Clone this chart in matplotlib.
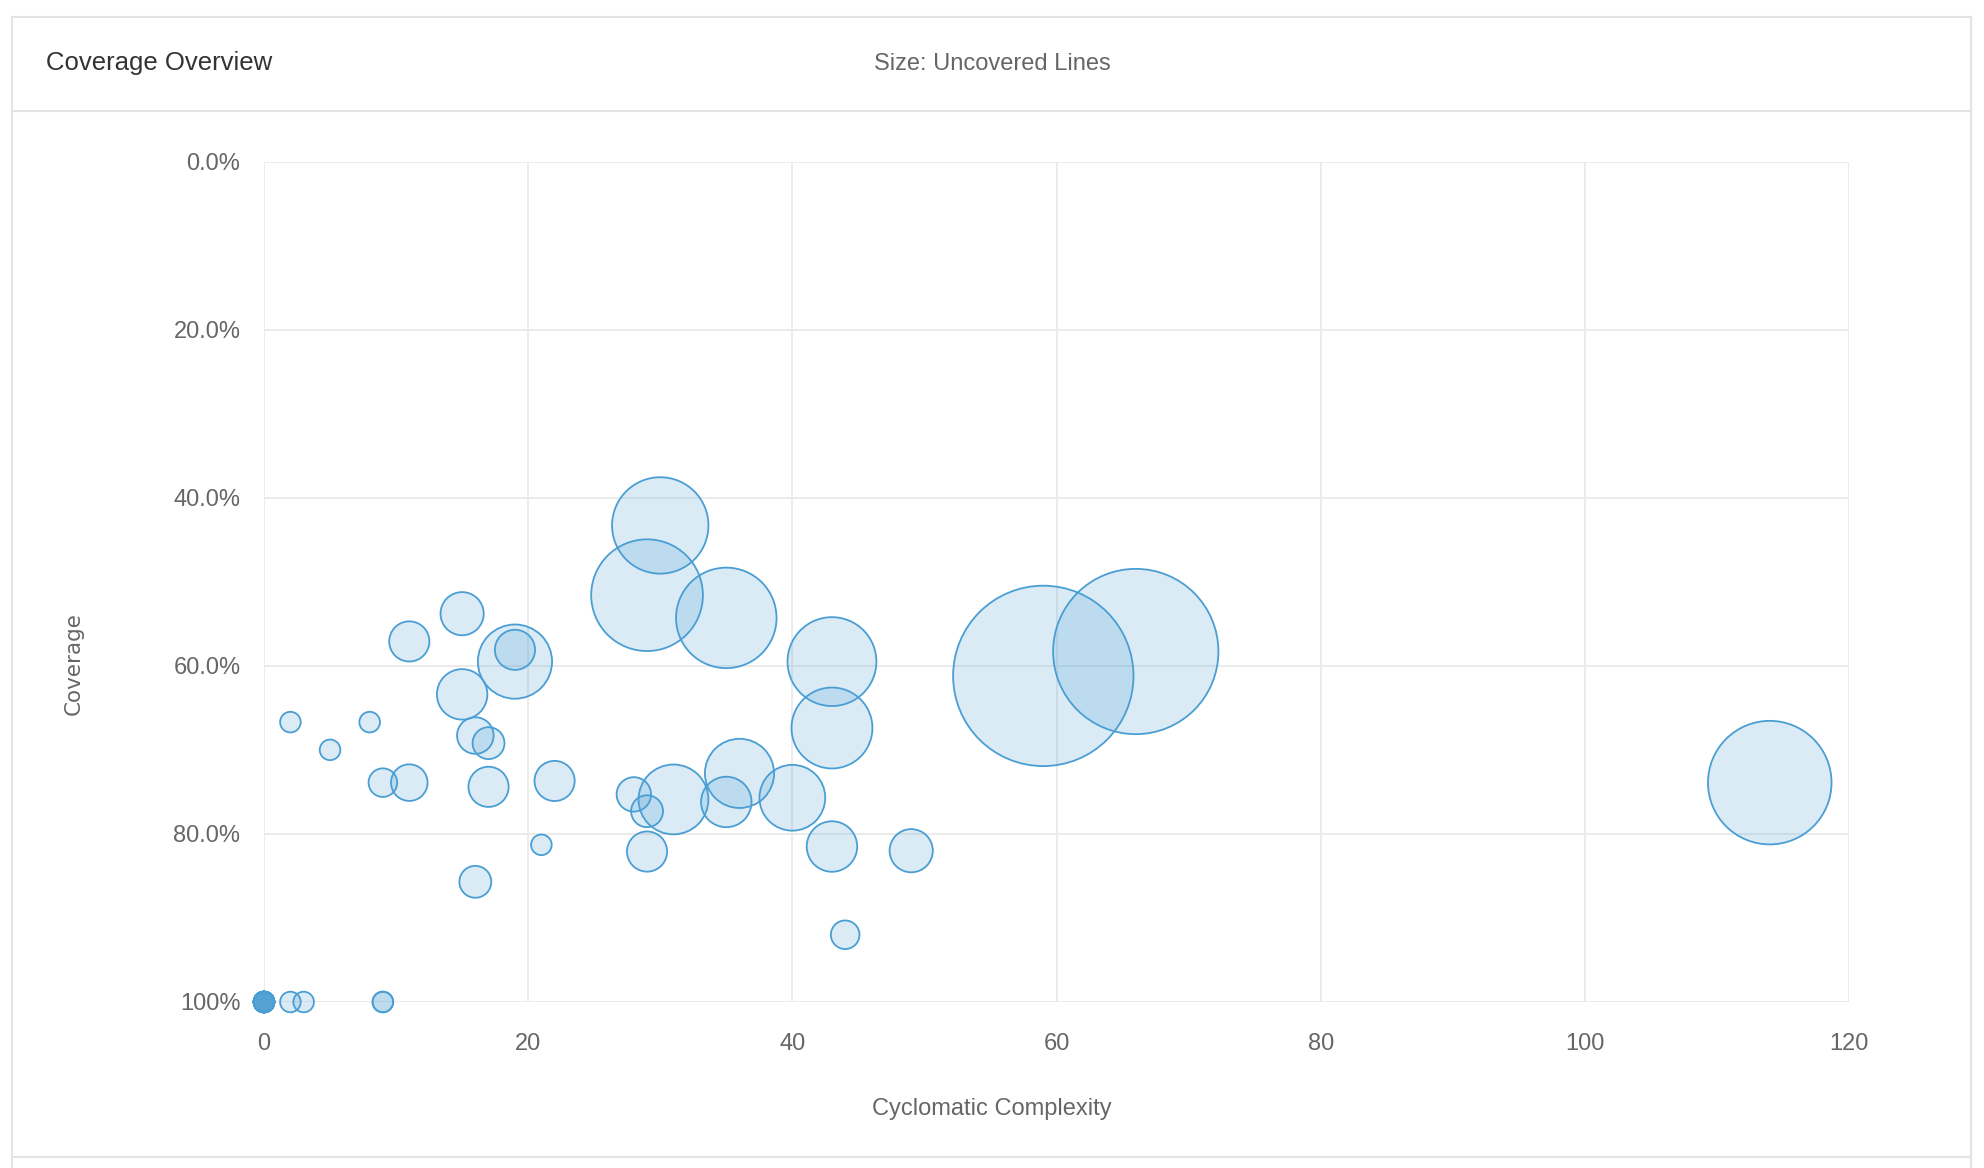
import numpy as np
import matplotlib
matplotlib.use("Agg")
import matplotlib.pyplot as plt
from matplotlib.lines import Line2D

# ---- data: one entry per file ----
complexity = [30, 29, 35, 43, 43, 22, 28, 29, 31, 35, 36, 40,
              15, 11, 19, 19, 15, 16, 17, 2, 8, 5, 9, 11, 17, 21, 16,
              59, 66, 114, 29, 43, 49, 44,
              2, 3, 9, 9,
              0, 0, 0, 0, 0, 0, 0, 0, 0, 0, 0, 0]
coverage = [43.3, 51.6, 54.3, 59.5, 67.4, 73.7, 75.3, 77.3, 75.9, 76.2, 72.8, 75.7,
            53.8, 57.1, 59.5, 58.1, 63.4, 68.3, 69.2, 66.7, 66.7, 70.0, 73.9, 73.9, 74.4, 81.3, 85.7,
            61.2, 58.3, 73.9, 82.1, 81.5, 82.0, 92.0,
            100, 100, 100, 100,
            100, 100, 100, 100, 100, 100, 100, 100, 100, 100, 100, 100]
uncovered = [90, 130, 100, 73, 57, 6, 3, 2, 38, 14, 37, 32,
             8, 6, 45, 6, 14, 4, 2, 0, 0, 0, 1, 4, 6, 0, 2,
             400, 328, 166, 6, 14, 8, 1,
             0, 0, 0, 0,
             0, 0, 0, 0, 0, 0, 0, 0, 0, 0, 0, 0]

x_ticks = [0, 20, 40, 60, 80, 100, 120]
y_ticks = [0, 20, 40, 60, 80, 100]
y_tick_labels = ["0.0%", "20.0%", "40.0%", "60.0%", "80.0%", "100%"]

W, H, DPI = 1984, 1168, 100
BLUE = "#4a9ed3"
GRID = "#ebebeb"
BORDER = "#e3e3e3"
TEXT = "#333333"
MUTED = "#666666"

plt.rcParams["font.family"] = ["Liberation Sans", "DejaVu Sans"]

fig = plt.figure(figsize=(W / DPI, H / DPI), dpi=DPI)


def px(x0, y0, x1, y1):
    # figure pixel box (top-left origin) -> axes rect
    return [x0 / W, 1 - y1 / H, (x1 - x0) / W, (y1 - y0) / H]


# card outline and header separator
for xs, ys in [((12, 1971), (17, 17)), ((12, 12), (17, 1168)), ((1971, 1971), (17, 1168)),
               ((12, 1971), (111, 111)), ((12, 1971), (1157, 1157))]:
    fig.add_artist(Line2D([x / W for x in xs], [1 - y / H for y in ys],
                          color=BORDER, lw=1.5))

fig.text(46 / W, 1 - 63 / H, "Coverage Overview", fontsize=18.5, color=TEXT,
         ha="left", va="center")
fig.text(992 / W, 1 - 64 / H, "Size: Uncovered Lines", fontsize=17, color=MUTED,
         ha="center", va="center")

ax = fig.add_axes(px(264, 161.5, 1849, 1002))

# bubble diameters: sized by area like Highcharts (min/max size in px)
d_min, d_max = 20.6, 180.4
z = np.array(uncovered, dtype=float)
diam = d_min + (d_max - d_min) * np.sqrt(z / z.max())
sizes = (diam * 72 / DPI) ** 2

face = matplotlib.colors.to_rgba(BLUE, 0.2)
ax.scatter(complexity, coverage, s=sizes, facecolors=[face], edgecolors=BLUE,
           linewidths=1.3, clip_on=False, zorder=3)

ax.set_xlim(0, 120)
ax.set_ylim(100, 0)
ax.set_xticks(x_ticks)
ax.set_yticks(y_ticks)
ax.set_yticklabels(y_tick_labels)
ax.grid(True, color=GRID, lw=1.4, zorder=0)
ax.set_axisbelow(True)
for sp in ax.spines.values():
    sp.set_visible(False)
ax.tick_params(length=0, labelsize=17, labelcolor=MUTED)
ax.tick_params(axis="x", pad=22)
ax.tick_params(axis="y", pad=17)

fig.text(992 / W, 1 - 1109 / H, "Cyclomatic Complexity", fontsize=17, color=MUTED,
         ha="center", va="center")
fig.text(74 / W, 1 - 664 / H, "Coverage", fontsize=15.5, color=MUTED,
         ha="center", va="center", rotation=90, family="DejaVu Sans")

fig.savefig("out.png", dpi=DPI)
